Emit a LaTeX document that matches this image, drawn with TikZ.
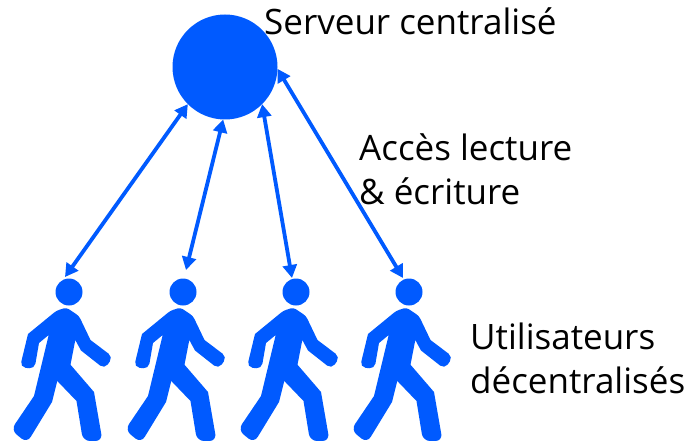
\documentclass[tikz,border=0pt]{standalone}
\usepackage{fontspec}
\setmainfont{Open Sans}
\usetikzlibrary{arrows.meta}
\definecolor{userblue}{RGB}{0,90,255}
\tikzset{
    server/.style={circle, fill=userblue, inner sep=0pt, outer sep=0pt, minimum size=105pt},
    head/.style={circle, fill=userblue, inner sep=0pt, outer sep=0pt, minimum size=27pt},
    link/.style={userblue, line width=3.8pt, {Triangle[length=13pt,width=14pt]}-{Triangle[length=13pt,width=14pt]}},
    lbl/.style={anchor=base west, inner sep=0pt, font=\fontsize{35}{42}\selectfont},
    walker/.pic={
        \fill [userblue] (-2.7,15.5) [rounded corners=3pt] -- (10,24) [sharp corners] -- (21.5,48)
            [rounded corners=5.5pt] -- (44,65) -- (35.5,77) [sharp corners] -- (12,58.5) -- (6.3,48) -- (1.5,72.7)
            -- (25,100) [rounded corners=7pt] -- (33.5,149) -- (14,149) [sharp corners] -- (7.5,109) -- (-11.7,89) -- (-17,110)
            [rounded corners=7pt] -- (-42,151) -- (-58,138) [sharp corners] -- (-35,104) -- (-20.3,43) -- (-30,51)
            [rounded corners=5.5pt] -- (-34.5,77) -- (-49,75) [sharp corners] -- (-41,42)
            [rounded corners=3pt] -- (-12.7,18.8) -- cycle;
    }
}
\begin{document}
\begin{tikzpicture}[x=1pt, y=-1pt]
    \useasboundingbox (0,0) rectangle (690,441);

    \node [server] (central) at (225,67) {};

    % users
    \foreach \n/\x in {1/69, 2/183, 3/296, 4/409} {
        \node [head] (user\n) at (\x,292) {};
        \pic at (\x,292) {walker};
    }

    \coordinate (tip1) at (65,277);
    \coordinate (tip2) at (186,270);
    \coordinate (tip3) at (292,278);
    \coordinate (tip4) at (403,278);

    \draw [link] (central.-135) -- (tip1);
    \draw [link] (central.-92) -- (tip2);
    \draw [link] (central.-45) -- (tip3);
    \draw [link] (central.-2) -- (tip4);

    \node [lbl] (title) at (264,35) {Serveur centralisé};
    \node [lbl] (access) at (359,160) {Accès lecture};
    \node [lbl] (write) at (359,204) {\& écriture};
    \node [lbl] (users) at (470,349) {Utilisateurs};
    \node [lbl] (decentral) at (470,393) {décentralisés};
\end{tikzpicture}
\end{document}
